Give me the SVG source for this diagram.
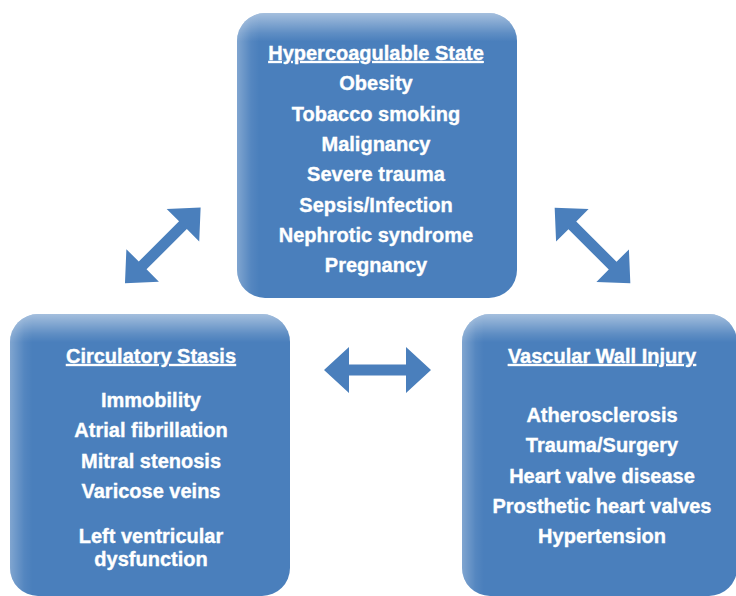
<svg xmlns="http://www.w3.org/2000/svg" width="736" height="596" viewBox="0 0 736 596">
<defs>
<linearGradient id="gTop" x1="0" y1="0" x2="0" y2="1">
<stop offset="0" stop-color="#ffffff" stop-opacity="0.5"/>
<stop offset="0.07" stop-color="#ffffff" stop-opacity="0.12"/>
<stop offset="0.1" stop-color="#ffffff" stop-opacity="0"/>
</linearGradient>
<linearGradient id="gLeft" x1="0" y1="0" x2="1" y2="0">
<stop offset="0" stop-color="#ffffff" stop-opacity="0.3"/>
<stop offset="0.05" stop-color="#ffffff" stop-opacity="0.06"/>
<stop offset="0.08" stop-color="#ffffff" stop-opacity="0"/>
</linearGradient>
<path id="arr" d="M-53.5,0 L-28.5,-23 L-28.5,-5.5 L28.5,-5.5 L28.5,-23 L53.5,0 L28.5,23 L28.5,5.5 L-28.5,5.5 L-28.5,23 Z"/>
</defs>
<style>
.box{fill:#4a7fbc}
.hlT{fill:url(#gTop)}
.hlL{fill:url(#gLeft)}
text{font-family:"Liberation Sans",Arial,sans-serif;font-weight:bold;font-size:20px;fill:#ffffff;stroke:#ffffff;stroke-width:0.35;text-anchor:middle}
.hd{text-decoration:underline}
.arrow{fill:#4a7fbc}
</style>
<rect width="736" height="596" fill="#ffffff"/>
<g id="connectors">
<use href="#arr" class="arrow" transform="translate(162.8,245.3) rotate(-45)"/>
<use href="#arr" class="arrow" transform="translate(592.5,245.5) rotate(45)"/>
<use href="#arr" class="arrow" transform="translate(377.5,370)"/>
</g>
<g id="hypercoagulable">
<rect class="box" x="237" y="13" width="280" height="285" rx="28"/>
<rect class="hlT" x="237" y="13" width="280" height="285" rx="28"/>
<rect class="hlL" x="237" y="13" width="280" height="285" rx="28"/>
<text x="376" y="60" class="hd">Hypercoagulable State</text>
<text x="376" y="90.3">Obesity</text>
<text x="376" y="120.6">Tobacco smoking</text>
<text x="376" y="150.9">Malignancy</text>
<text x="376" y="181.2">Severe trauma</text>
<text x="376" y="211.5">Sepsis/Infection</text>
<text x="376" y="241.8">Nephrotic syndrome</text>
<text x="376" y="272">Pregnancy</text>
</g>
<g id="stasis">
<rect class="box" x="10" y="314" width="280" height="282" rx="28"/>
<rect class="hlT" x="10" y="314" width="280" height="282" rx="28"/>
<rect class="hlL" x="10" y="314" width="280" height="282" rx="28"/>
<text x="151" y="363" class="hd">Circulatory Stasis</text>
<text x="151" y="407">Immobility</text>
<text x="151" y="437.3">Atrial fibrillation</text>
<text x="151" y="467.6">Mitral stenosis</text>
<text x="151" y="498">Varicose veins</text>
<text x="151" y="543.3">Left ventricular</text>
<text x="151" y="565.5">dysfunction</text>
</g>
<g id="injury">
<rect class="box" x="462" y="314" width="275" height="282" rx="28"/>
<rect class="hlT" x="462" y="314" width="275" height="282" rx="28"/>
<rect class="hlL" x="462" y="314" width="275" height="282" rx="28"/>
<text x="602" y="363" class="hd">Vascular Wall Injury</text>
<text x="602" y="422">Atherosclerosis</text>
<text x="602" y="452.3">Trauma/Surgery</text>
<text x="602" y="482.6">Heart valve disease</text>
<text x="602" y="512.9">Prosthetic heart valves</text>
<text x="602" y="543.2">Hypertension</text>
</g>
</svg>
